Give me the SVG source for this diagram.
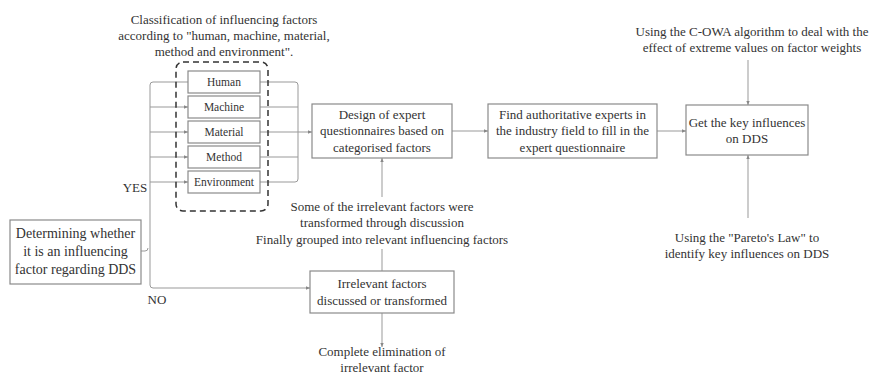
<svg xmlns="http://www.w3.org/2000/svg" width="870" height="385" viewBox="0 0 870 385" font-family="'Liberation Serif', 'Times New Roman', serif">
<defs>
<style>
.box{fill:#fff;stroke:#8a8a8a;stroke-width:1.2}
.ln{fill:none;stroke:#999;stroke-width:1}
text{font-family:'Liberation Serif','Times New Roman',serif;font-size:13px;fill:#333;text-anchor:middle}
.s{font-size:11.5px}
.b{font-size:14px}
</style>
<marker id="ar" viewBox="0 0 6 6" refX="6" refY="3" markerWidth="4" markerHeight="4" orient="auto" markerUnits="userSpaceOnUse">
<path d="M0,0.5 L6,3 L0,5.5 z" fill="#888"/>
</marker>
</defs>
<rect width="870" height="385" fill="#fff"/>
<g id="connectors">
<path class="ln" d="M188,82 H153 Q150,82 150,85 V285 Q150,288 153,288 H310" marker-end="url(#ar)"/>
<path class="ln" d="M150,107 H188" marker-end="url(#ar)"/>
<path class="ln" d="M150,132 H188" marker-end="url(#ar)"/>
<path class="ln" d="M150,157 H188" marker-end="url(#ar)"/>
<path class="ln" d="M150,182 H188" marker-end="url(#ar)"/>
<path class="ln" d="M141,251 H145 Q148,251 148,248"/>
<path class="ln" d="M260,82 H295 Q298,82 298,85 V179 Q298,182 295,182 H260"/>
<path class="ln" d="M260,107 H298 M260,132 H298 M260,157 H298"/>
<path class="ln" d="M298,132 H312" marker-end="url(#ar)"/>
<path class="ln" d="M452,131 H488" marker-end="url(#ar)"/>
<path class="ln" d="M657,131 H686" marker-end="url(#ar)"/>
<path class="ln" d="M748,60 V105" marker-end="url(#ar)"/>
<path class="ln" d="M748,218 V155" marker-end="url(#ar)"/>
<path class="ln" d="M382,197 V158" marker-end="url(#ar)"/>
<path class="ln" d="M382,249 V271"/>
<path class="ln" d="M382,313 V347" marker-end="url(#ar)"/>
</g>
<g id="classification-group">
<rect x="176" y="62" width="92" height="149" rx="7" fill="none" stroke="#333" stroke-width="1.5" stroke-dasharray="6,4"/>
</g>
<g id="classification-label">
<text x="224" y="24">Classification of influencing factors</text>
<text x="224" y="40">according to "human, machine, material,</text>
<text x="224" y="56">method and environment".</text>
</g>
<g id="human"><rect class="box" x="188" y="71" width="72" height="22"/><text class="s" x="224" y="86">Human</text></g>
<g id="machine"><rect class="box" x="188" y="96" width="72" height="22"/><text class="s" x="224" y="111">Machine</text></g>
<g id="material"><rect class="box" x="188" y="121" width="72" height="22"/><text class="s" x="224" y="136">Material</text></g>
<g id="method"><rect class="box" x="188" y="146" width="72" height="22"/><text class="s" x="224" y="161">Method</text></g>
<g id="environment"><rect class="box" x="188" y="171" width="72" height="22"/><text class="s" x="224" y="186">Environment</text></g>
<g id="determining">
<rect class="box" x="10" y="220" width="131" height="64"/>
<text class="b" x="75.5" y="238">Determining whether</text>
<text class="b" x="75.5" y="256">it is an influencing</text>
<text class="b" x="75.5" y="274">factor regarding DDS</text>
</g>
<g id="yes-label"><text x="135" y="192">YES</text></g>
<g id="no-label"><text x="157" y="304">NO</text></g>
<g id="design">
<rect class="box" x="312" y="104" width="140" height="54"/>
<text x="382" y="119">Design of expert</text>
<text x="382" y="135">questionnaires based on</text>
<text x="382" y="152">categorised factors</text>
</g>
<g id="find">
<rect class="box" x="488" y="104" width="169" height="54"/>
<text x="572.5" y="119">Find authoritative experts in</text>
<text x="572.5" y="135">the industry field to fill in the</text>
<text x="572.5" y="152">expert questionnaire</text>
</g>
<g id="get">
<rect class="box" x="686" y="105" width="122" height="50"/>
<text x="747" y="127">Get the key influences</text>
<text x="747" y="143">on DDS</text>
</g>
<g id="cowa-label">
<text x="752" y="36">Using the C-OWA algorithm to deal with the</text>
<text x="752" y="52">effect of extreme values on factor weights</text>
</g>
<g id="pareto-label">
<text x="747" y="242">Using the "Pareto's Law" to</text>
<text x="747" y="258">identify key influences on DDS</text>
</g>
<g id="transform-label">
<text x="382" y="211">Some of the irrelevant factors were</text>
<text x="382" y="227">transformed through discussion</text>
<text x="382" y="244">Finally grouped into relevant influencing factors</text>
</g>
<g id="irrelevant">
<rect class="box" x="310" y="271" width="144" height="42"/>
<text x="382" y="288">Irrelevant factors</text>
<text x="382" y="305">discussed or transformed</text>
</g>
<g id="elimination-label">
<text x="382" y="356">Complete elimination of</text>
<text x="382" y="372">irrelevant factor</text>
</g>
</svg>
